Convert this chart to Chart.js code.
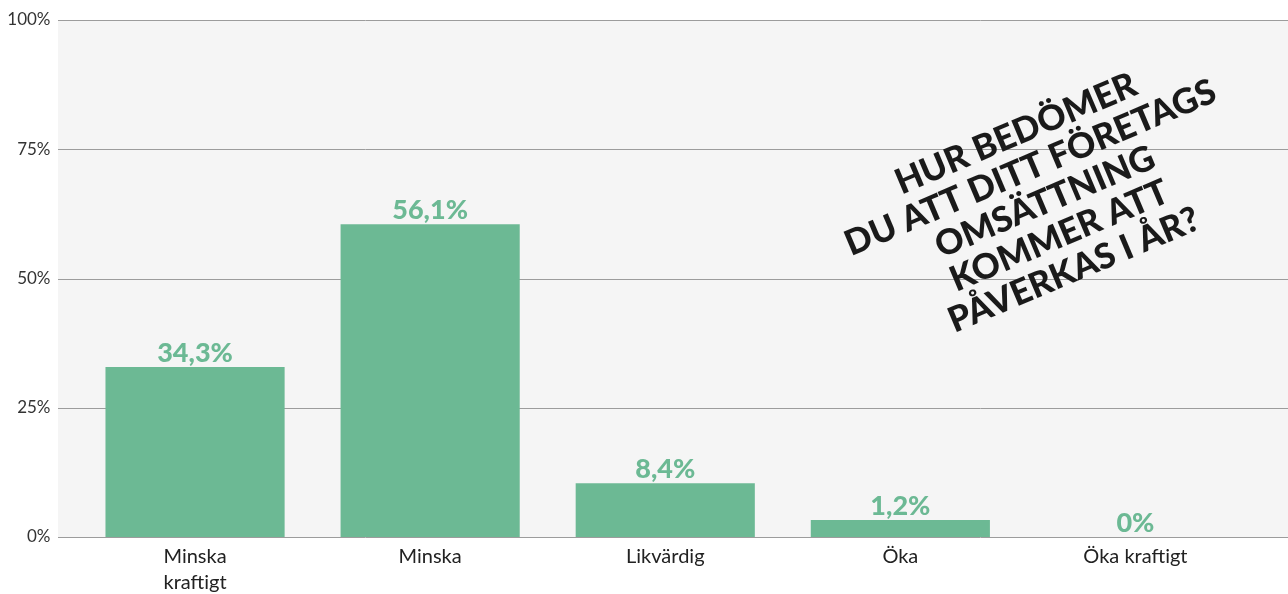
<!DOCTYPE html>
<html><head><meta charset="utf-8">
<script src="https://cdn.jsdelivr.net/npm/chart.js@4"></script>
<style>html,body{margin:0;padding:0;background:#fff}#wrap{width:1288px;height:594px}</style>
</head><body><div id="wrap"><canvas id="c" width="1288" height="594"></canvas></div>
<script>
const categories = [['Minska','kraftigt'], 'Minska', 'Likvärdig', 'Öka', 'Öka kraftigt'];
const barValues = [32.9, 60.5, 10.4, 3.3, 0];
const valueLabels = ['34,3%', '56,1%', '8,4%', '1,2%', '0%'];
const yTicks = [0, 25, 50, 75, 100];
const titleLines = ['HUR BEDÖMER', 'DU ATT DITT FÖRETAGS', 'OMSÄTTNING', 'KOMMER ATT', 'PÅVERKAS I ÅR?'];

const GREEN = '#6cb994';
const plotBg = {
  id: 'plotBg',
  beforeDraw(chart) {
    const {ctx, scales: {y}} = chart;
    const left = 58, right = 1288;
    ctx.save();
    ctx.fillStyle = '#f5f5f5';
    ctx.fillRect(left, y.getPixelForValue(100), right - left, y.getPixelForValue(0) - y.getPixelForValue(100));
    ctx.strokeStyle = '#9c9c9c';
    ctx.lineWidth = 1;
    yTicks.forEach(v => {
      const py = Math.round(y.getPixelForValue(v)) + 0.5;
      ctx.beginPath(); ctx.moveTo(left, py); ctx.lineTo(right, py); ctx.stroke();
    });
    ctx.restore();
  },
  afterDatasetsDraw(chart) {
    const {ctx} = chart;
    const meta = chart.getDatasetMeta(0);
    ctx.save();
    ctx.fillStyle = GREEN;
    ctx.font = '900 27px Lato';
    ctx.textAlign = 'center';
    ctx.textBaseline = 'alphabetic';
    meta.data.forEach((bar, i) => {
      ctx.fillText(valueLabels[i], bar.x, bar.y - 5);
    });
    // rotated title
    ctx.fillStyle = '#1a1a1a';
    ctx.font = '900 35px Lato';
    ctx.translate(1045, 202);
    ctx.rotate(-23 * Math.PI / 180);
    ctx.textBaseline = 'middle';
    const lh = 37;
    titleLines.forEach((t, i) => {
      ctx.fillText(t, 0, (i - 2) * lh);
    });
    ctx.restore();
  }
};

new Chart(document.getElementById('c'), {
  type: 'bar',
  data: {
    labels: categories,
    datasets: [{ data: barValues, backgroundColor: GREEN, borderWidth: 0,
      categoryPercentage: 1, barPercentage: 0.762 }]
  },
  options: {
    responsive: false, animation: false,
    layout: { padding: { top: 20, right: 35, left: 0, bottom: 0 } },
    plugins: { legend: { display: false }, tooltip: { enabled: false } },
    scales: {
      x: {
        grid: { display: false, drawTicks: false },
        border: { display: false },
        ticks: { color: '#222', font: { family: 'Lato', size: 20, lineHeight: 1.3 }, padding: 7, maxRotation: 0, autoSkip: false },
        afterFit(s) { s.height = 57; s.paddingTop = 0; s.paddingBottom = 0; }
      },
      y: {
        min: 0, max: 100,
        grid: { display: false, drawTicks: false },
        border: { display: false },
        ticks: { stepSize: 25, color: '#333', font: { family: 'Lato', size: 17 }, padding: 27,
          callback: v => v + '%' },
        afterFit(s) { s.width = 77.5; s.paddingTop = 0; s.paddingBottom = 0; }
      }
    }
  },
  plugins: [plotBg]
});
</script></body></html>
